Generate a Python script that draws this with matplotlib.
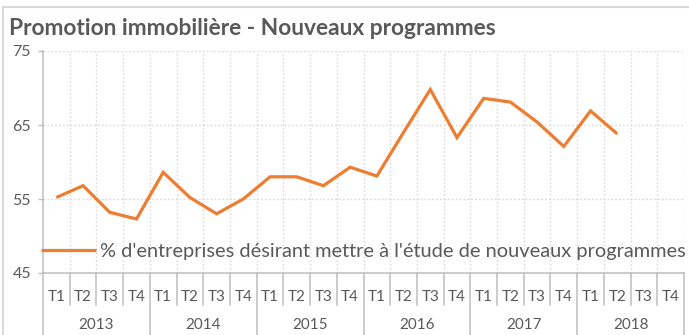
import numpy as np
import matplotlib
matplotlib.use("Agg")
import matplotlib.pyplot as plt
from matplotlib.lines import Line2D
from matplotlib.transforms import blended_transform_factory

plt.rcParams['font.family'] = ['Lato', 'DejaVu Sans']

years = ['2013', '2014', '2015', '2016', '2017', '2018']
quarters = ['T1', 'T2', 'T3', 'T4']
# % d'entreprises désirant mettre à l'étude de nouveaux programmes
values = [55.2, 56.8, 53.2, 52.3,
          58.6, 55.2, 53.0, 55.0,
          58.0, 58.0, 56.8, 59.3,
          58.1, 64.0, 69.8, 63.3,
          68.6, 68.1, 65.4, 62.1,
          66.9, 63.8, np.nan, np.nan]
series_label = "% d'entreprises désirant mettre à l'étude de nouveaux programmes"
title = "Promotion immobilière - Nouveaux programmes"

ORANGE = '#ED7D31'
TXT = '#595959'
AXIS = '#BFBFBF'
GRID = '#D9D9D9'

W, H = 689, 335
fig = plt.figure(figsize=(W / 100, H / 100), dpi=100)
ax = fig.add_axes([43 / W, 1 - 273 / H, (684 - 43) / W, (273 - 51) / H])

n = len(values)
x = np.arange(n)
ax.plot(x, values, color=ORANGE, lw=2.3, solid_joinstyle='miter',
        solid_capstyle='butt', label=series_label)

ax.set_xlim(-0.5, n - 0.5)
ax.set_ylim(45, 75)
ax.set_yticks([45, 55, 65, 75])
ax.tick_params(axis='y', colors=AXIS, labelcolor=TXT, labelsize=11.5,
               length=3.6, width=1, pad=5)
ax.set_xticks([])

# dotted grid
for yv in [55, 65, 75]:
    ax.axhline(yv, color=GRID, lw=1, ls=(0, (1.2, 1.6)), zorder=0)
for k in range(1, n + 1):
    ax.axvline(k - 0.5, color=GRID, lw=1, ls=(0, (1.2, 1.6)), zorder=0)

for side in ['top', 'right']:
    ax.spines[side].set_visible(False)
ax.spines['left'].set_color(AXIS)
ax.spines['bottom'].set_color(AXIS)
ax.spines['left'].set_linewidth(1.1)
ax.spines['bottom'].set_linewidth(1.1)

# two-level category axis
tr = blended_transform_factory(ax.transData, ax.transAxes)
q_bottom = -(305 - 273) / 222
y_bottom = -(335 - 273) / 222
for k in range(n + 1):
    xb = k - 0.5
    low = y_bottom if k % 4 == 0 else q_bottom
    ax.add_line(Line2D([xb, xb], [0, low], transform=tr, color=AXIS,
                       lw=1.1, clip_on=False))
for i in range(n):
    ax.text(i, -(297 - 273) / 222, quarters[i % 4], transform=tr,
            ha='center', va='center', fontsize=11, color=TXT)
for j, yr in enumerate(years):
    ax.text(j * 4 + 1.5, -(325 - 273) / 222, yr, transform=tr,
            ha='center', va='center', fontsize=11, color=TXT)

leg = ax.legend(loc='center left', bbox_to_anchor=(40.5 / W, 1 - 251.5 / H),
                bbox_transform=fig.transFigure, frameon=False, borderpad=0,
                borderaxespad=0, handlelength=2.75, handletextpad=0.2,
                fontsize=14.4, labelcolor=TXT)

fig.text(9 / W, 1 - 35 / H, title, fontsize=16.4, fontweight='bold',
         color=TXT, va='baseline', ha='left')

# chart frame
fig.add_artist(Line2D([3 / W, 1], [1 - 7 / H, 1 - 7 / H],
                      transform=fig.transFigure, color=GRID, lw=1.5))
fig.add_artist(Line2D([3 / W, 3 / W], [0, 1 - 7 / H],
                      transform=fig.transFigure, color=GRID, lw=1.5))

fig.savefig('out.png', dpi=100)
